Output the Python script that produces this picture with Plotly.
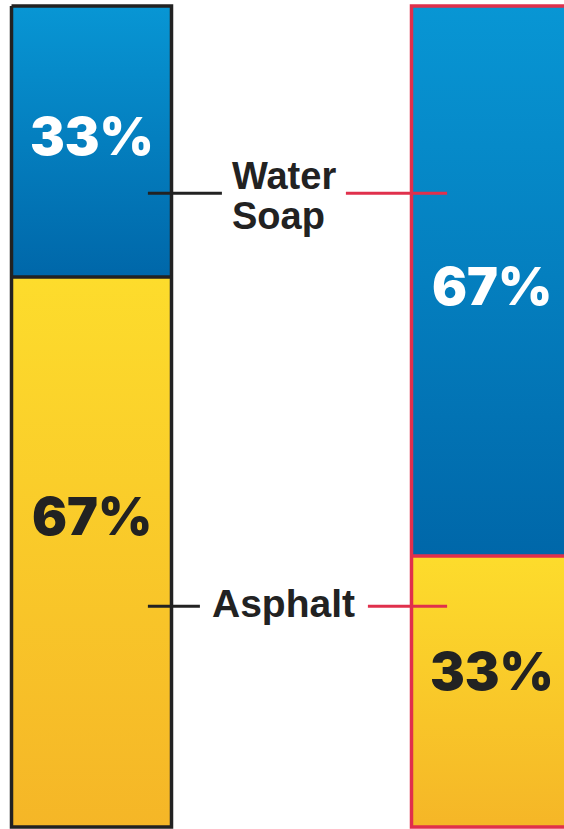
import plotly.graph_objects as go

# Data
columns = ["Left", "Right"]
water_soap = [33, 67]
asphalt = [67, 33]
water_labels = ["33%", "67%"]
asphalt_labels = ["67%", "33%"]
series_names = ["Asphalt", "Water Soap"]

# label placement within each segment (fraction of segment height)
water_label_frac = [0.52, 0.49]
asphalt_label_frac = [0.565, 0.575]

x_pos = [0, 1]
BAR_W = 0.4
# the right column runs off the edge of the picture
bar_widths = [BAR_W, 0.7]
bar_offsets = [-BAR_W / 2, -BAR_W / 2]
border_colors = ["#222222", "#e0304c"]
BLUE = "#057bbd"
BLUE_DARK, BLUE_LIGHT = "#0067a9", "#0896d4"
YELLOW = "#f8c62a"
YEL_DARK, YEL_LIGHT = "#f5b627", "#fddc2c"
FONT = "Liberation Sans"
PCT_FONT = "Inter"

W, H = 600, 829
px_per_x = 400.0
px_per_y = 8.21
x_left = -91.5 / px_per_x
x_right = x_left + W / px_per_x

fig = go.Figure()
fig.add_trace(go.Bar(
    x=x_pos, y=asphalt, name=series_names[0], width=bar_widths, offset=bar_offsets,
    marker=dict(color=YELLOW, line=dict(width=0)), hoverinfo="skip",
))
fig.add_trace(go.Bar(
    x=x_pos, y=water_soap, name=series_names[1], width=bar_widths, offset=bar_offsets,
    marker=dict(color=BLUE, line=dict(width=0)), hoverinfo="skip",
))

# gradient fills on each stacked segment
for i in range(2):
    segs = [(0, asphalt[i], YEL_DARK, YEL_LIGHT),
            (asphalt[i], asphalt[i] + water_soap[i], BLUE_DARK, BLUE_LIGHT)]
    xa = x_pos[i] + bar_offsets[i]
    xb = xa + bar_widths[i]
    for y0, y1, cdark, clight in segs:
        fig.add_trace(go.Scatter(
            x=[xa, xb, xb, xa, xa], y=[y0, y0, y1, y1, y0],
            mode="lines", line=dict(width=0), fill="toself",
            fillgradient=dict(type="vertical", start=y0, stop=y1,
                              colorscale=[[0, cdark], [1, clight]]),
            hoverinfo="skip", showlegend=False,
        ))

# column outlines and divider (open on the side that runs off the picture)
for i in range(2):
    xa = x_pos[i] + bar_offsets[i]
    xb = xa + bar_widths[i]
    top = asphalt[i] + water_soap[i]
    if xb > x_right:
        ox, oy = [xb, xa, xa, xb], [top, top, 0, 0]
    else:
        ox, oy = [xa, xb, xb, xa, xa], [top, top, 0, 0, top]
    ox += [None, xa, xb]
    oy += [None, asphalt[i], asphalt[i]]
    fig.add_trace(go.Scatter(
        x=ox, y=oy, mode="lines", line=dict(color=border_colors[i], width=3.5),
        hoverinfo="skip", showlegend=False, connectgaps=False,
    ))

# percentage labels
for i in range(2):
    ya = asphalt[i] * asphalt_label_frac[i]
    yw = asphalt[i] + water_soap[i] * water_label_frac[i]
    fig.add_annotation(x=x_pos[i], y=ya, text=asphalt_labels[i], showarrow=False,
                       font=dict(family=PCT_FONT, size=52, color="#222222", weight=900))
    fig.add_annotation(x=x_pos[i], y=yw, text=water_labels[i], showarrow=False,
                       font=dict(family=PCT_FONT, size=52, color="white", weight=900))

# callout lines
lines = [
    (0.141, 0.326, 77.2, border_colors[0]),
    (0.636, 0.889, 77.2, border_colors[1]),
    (0.141, 0.271, 26.9, border_colors[0]),
    (0.691, 0.889, 26.9, border_colors[1]),
]
for x0, x1, yv, c in lines:
    fig.add_shape(type="line", x0=x0, x1=x1, y0=yv, y1=yv, xref="x", yref="y",
                  line=dict(color=c, width=3), layer="above")

fig.add_annotation(x=0.346, y=79.3, text="<b>Water</b>", showarrow=False,
                   xanchor="left", yanchor="middle",
                   font=dict(family=FONT, size=38, color="#222222"))
fig.add_annotation(x=0.346, y=74.4, text="<b>Soap</b>", showarrow=False,
                   xanchor="left", yanchor="middle",
                   font=dict(family=FONT, size=38, color="#222222"))
fig.add_annotation(x=0.296, y=27.2, text="<b>Asphalt</b>", showarrow=False,
                   xanchor="left", yanchor="middle",
                   font=dict(family=FONT, size=39, color="#222222"))

fig.update_layout(
    barmode="stack", width=W, height=H,
    margin=dict(l=0, r=0, t=0, b=0),
    paper_bgcolor="white", plot_bgcolor="white",
    showlegend=False,
    xaxis=dict(range=[x_left, x_right], visible=False, fixedrange=True),
    yaxis=dict(range=[-0.24, 100.73], visible=False, fixedrange=True),
)

fig.write_html("out.html", config={"displayModeBar": False, "staticPlot": True},
               post_script="document.body.style.margin='0';document.body.style.overflow='hidden';")
